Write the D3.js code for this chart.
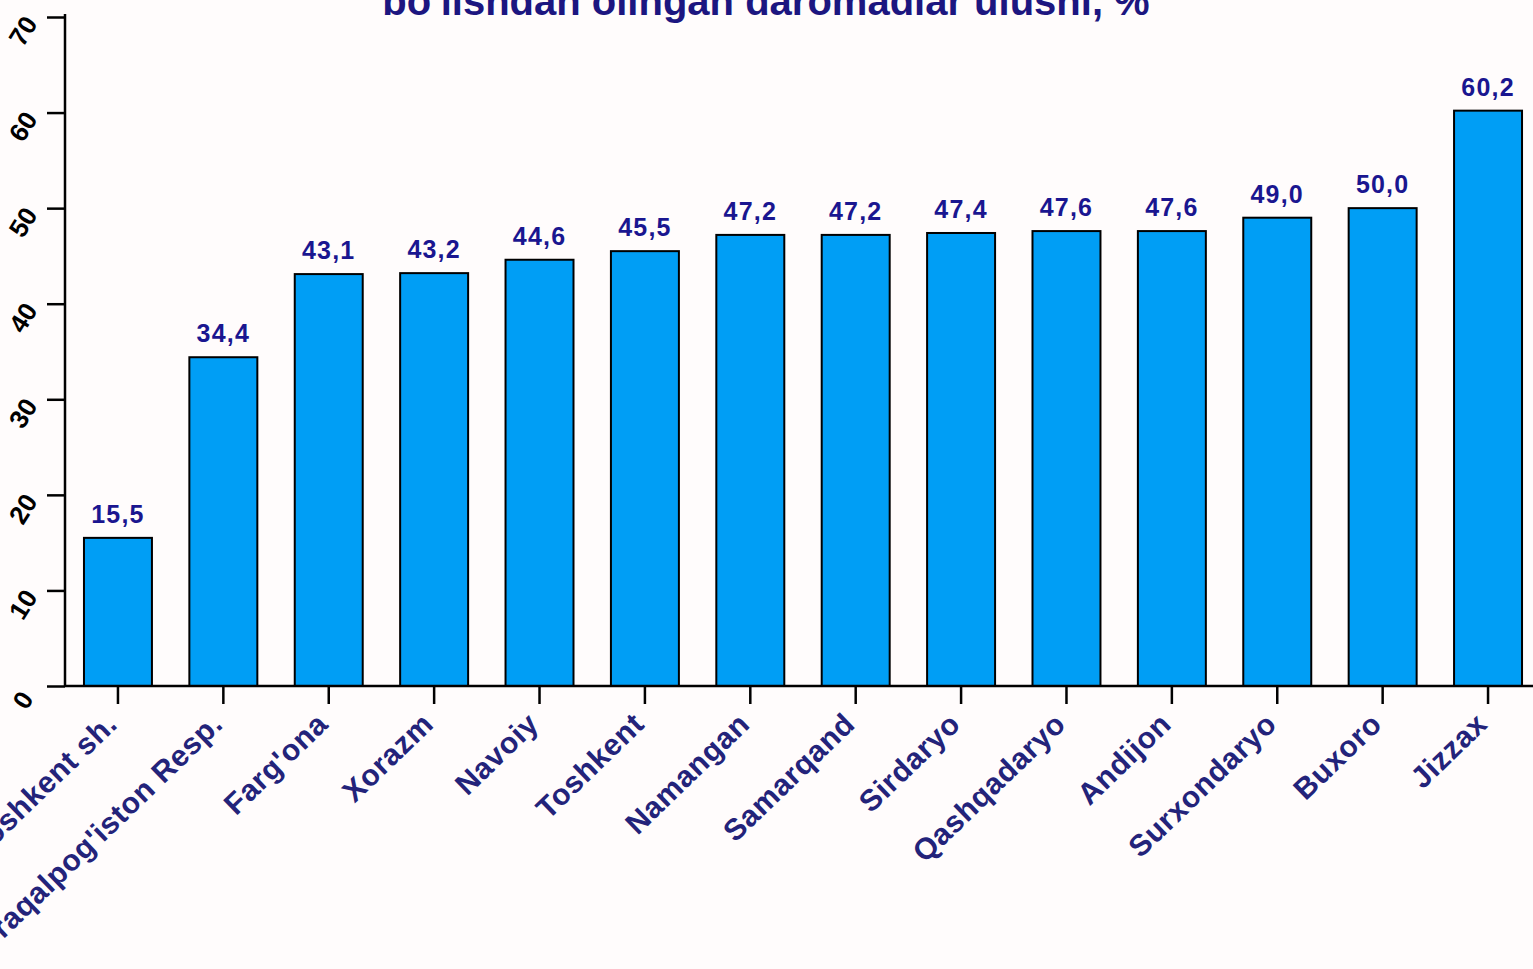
<!DOCTYPE html>
<html><head><meta charset="utf-8">
<script src="https://cdn.jsdelivr.net/npm/d3@7"></script>
<style>
html,body{margin:0;padding:0;background:#fffcfc;overflow:hidden;}
svg{display:block;}
text{font-family:"Liberation Sans",Arial,sans-serif;font-weight:bold;}
</style></head>
<body>
<svg id="chart" width="1533" height="969"></svg>
<script>
const titleText = "bo'lishdan olingan daromadlar ulushi, %";
const categories = ["Toshkent sh.","Qoraqalpog'iston Resp.","Farg'ona","Xorazm","Navoiy","Toshkent","Namangan","Samarqand","Sirdaryo","Qashqadaryo","Andijon","Surxondaryo","Buxoro","Jizzax"];
const values = [15.5,34.4,43.1,43.2,44.6,45.5,47.2,47.2,47.4,47.6,47.6,49.0,50.0,60.2];
const valueLabels = ["15,5","34,4","43,1","43,2","44,6","45,5","47,2","47,2","47,4","47,6","47,6","49,0","50,0","60,2"];
const yTicks = [0,10,20,30,40,50,60,70];

const svg = d3.select("#chart");
const W = 1533, H = 969;
svg.append("rect").attr("width",W).attr("height",H).attr("fill","#fffcfc");

const x = d3.scaleBand().domain(categories).range([65, 1541]).paddingInner(0.355).paddingOuter(0.18);
const y = d3.scaleLinear().domain([0,70]).range([686,17]);

// title (top cut off)
svg.append("text").attr("x",766).attr("y",15).attr("text-anchor","middle")
  .attr("font-size",40).attr("fill","#1c1680").text(titleText);

// bars
svg.append("g").selectAll("rect").data(categories).join("rect")
  .attr("x",d=>x(d)).attr("y",(d,i)=>y(values[i]))
  .attr("width",x.bandwidth()).attr("height",(d,i)=>y(0)-y(values[i]))
  .attr("fill","#009ef5").attr("stroke","#000").attr("stroke-width",2);

// value labels
svg.append("g").selectAll("text").data(categories).join("text")
  .attr("x",d=>x(d)+x.bandwidth()/2).attr("y",(d,i)=>y(values[i])-15)
  .attr("text-anchor","middle").attr("font-size",25).attr("letter-spacing",1.2).attr("fill","#1a1690")
  .text((d,i)=>valueLabels[i]);

// y axis
const yAxis = d3.axisLeft(y).tickValues(yTicks).tickSize(18).tickFormat("");
const gy = svg.append("g").attr("transform","translate(65,0)").call(yAxis);
gy.select(".domain").attr("stroke","#000").attr("stroke-width",2.5).attr("d","M0,14V686");
gy.selectAll(".tick line").attr("stroke","#000").attr("stroke-width",2.5);
svg.append("g").selectAll("text").data(yTicks).join("text")
  .attr("transform",d=>`translate(23,${y(d)+14}) rotate(-58)`)
  .attr("text-anchor","middle").attr("dominant-baseline","central")
  .attr("font-size",26).attr("fill","#000").text(d=>d);

// x axis
const xAxis = d3.axisBottom(x).tickSize(18).tickFormat("");
const gx = svg.append("g").attr("transform","translate(0,686)").call(xAxis);
gx.select(".domain").attr("stroke","#000").attr("stroke-width",2.5).attr("d","M65,0H1533");
gx.selectAll(".tick line").attr("stroke","#000").attr("stroke-width",2.5);
svg.append("g").selectAll("text").data(categories).join("text")
  .attr("transform",d=>`translate(${x(d)+x.bandwidth()/2+1},${686+40}) rotate(-44)`)
  .attr("text-anchor","end").attr("font-size",30).attr("letter-spacing",0.6).attr("fill","#23237a").text(d=>d);
</script>
</body></html>
